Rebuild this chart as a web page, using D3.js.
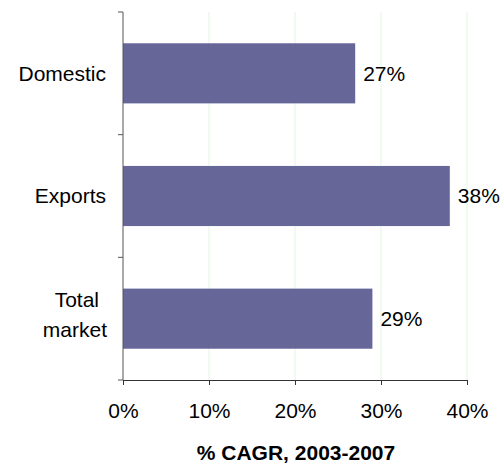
<!DOCTYPE html>
<html>
<head>
<meta charset="utf-8">
<script src="https://cdn.jsdelivr.net/npm/d3@7/dist/d3.min.js"></script>
<style>
html,body{margin:0;padding:0;background:#fff;}
svg text{font-family:"Liberation Sans",Arial,sans-serif;}
</style>
</head>
<body>
<svg id="chart" width="501" height="466"></svg>
<script>
const categories = ["Domestic", "Exports", "Total market"];
const values = [27, 38, 29];
const xTicks = [0, 10, 20, 30, 40];
const xTitle = "% CAGR, 2003-2007";

const svg = d3.select("#chart");
const margin = {left: 123, top: 12, right: 34, bottom: 86};
const W = 501, H = 466;
const FS = 21;
const x = d3.scaleLinear().domain([0, 40]).range([margin.left, W - margin.right]);
const y = d3.scaleBand().domain(categories).range([margin.top, H - margin.bottom]).paddingInner(0.51).paddingOuter(0.255);

// gridlines
svg.append("g").selectAll("line").data(xTicks.filter(d => d > 0)).join("line")
  .attr("x1", d => x(d)).attr("x2", d => x(d))
  .attr("y1", margin.top).attr("y2", H - margin.bottom)
  .attr("stroke", "#e3f5e3").attr("stroke-width", 1);

// bars
svg.append("g").selectAll("rect").data(categories).join("rect")
  .attr("x", x(0)).attr("y", d => y(d))
  .attr("width", (d, i) => x(values[i]) - x(0))
  .attr("height", y.bandwidth())
  .attr("fill", "#666699");

// value labels
svg.append("g").selectAll("text").data(categories).join("text")
  .attr("x", (d, i) => x(values[i]) + 8)
  .attr("y", d => y(d) + y.bandwidth() / 2)
  .attr("dy", "0.35em")
  .attr("font-size", FS)
  .attr("fill", "#000")
  .text((d, i) => values[i] + "%");

// x axis
const xAxis = svg.append("g").attr("transform", `translate(0,${H - margin.bottom})`)
  .call(d3.axisBottom(x).tickValues(xTicks).tickFormat(d => d + "%").tickSize(5).tickPadding(18).tickSizeOuter(0));
xAxis.select(".domain").attr("stroke", "#333");
xAxis.selectAll(".tick line").attr("stroke", "#333");
xAxis.selectAll("text").attr("font-size", FS).attr("fill", "#000").attr("font-family", "Liberation Sans, Arial, sans-serif");

// y axis: ticks at band boundaries
const yAxisG = svg.append("g");
yAxisG.append("line").attr("x1", x(0)).attr("x2", x(0))
  .attr("y1", margin.top).attr("y2", H - margin.bottom).attr("stroke", "#555");
const step = y.step();
const boundaries = d3.range(categories.length + 1).map(i => margin.top + i * step);
yAxisG.selectAll("line.t").data(boundaries).join("line").attr("class", "t")
  .attr("x1", x(0) - 5).attr("x2", x(0)).attr("y1", d => d).attr("y2", d => d).attr("stroke", "#555");

// category labels
const labelG = svg.append("g");
categories.forEach((c, i) => {
  const cy = y(c) + y.bandwidth() / 2;
  const t = labelG.append("text").attr("text-anchor", "end").attr("font-size", FS).attr("fill", "#000");
  if (c === "Total market") {
    t.append("tspan").attr("x", 99).attr("y", cy - 12).text("Total");
    t.append("tspan").attr("x", 107).attr("y", cy + 18).text("market");
  } else {
    t.attr("x", 106).attr("y", cy).attr("dy", "0.35em").text(c);
  }
});

// x title
svg.append("text").attr("x", 296).attr("y", 460).attr("text-anchor", "middle")
  .attr("font-size", FS).attr("font-weight", "bold").attr("fill", "#000").text(xTitle);
</script>
</body>
</html>
